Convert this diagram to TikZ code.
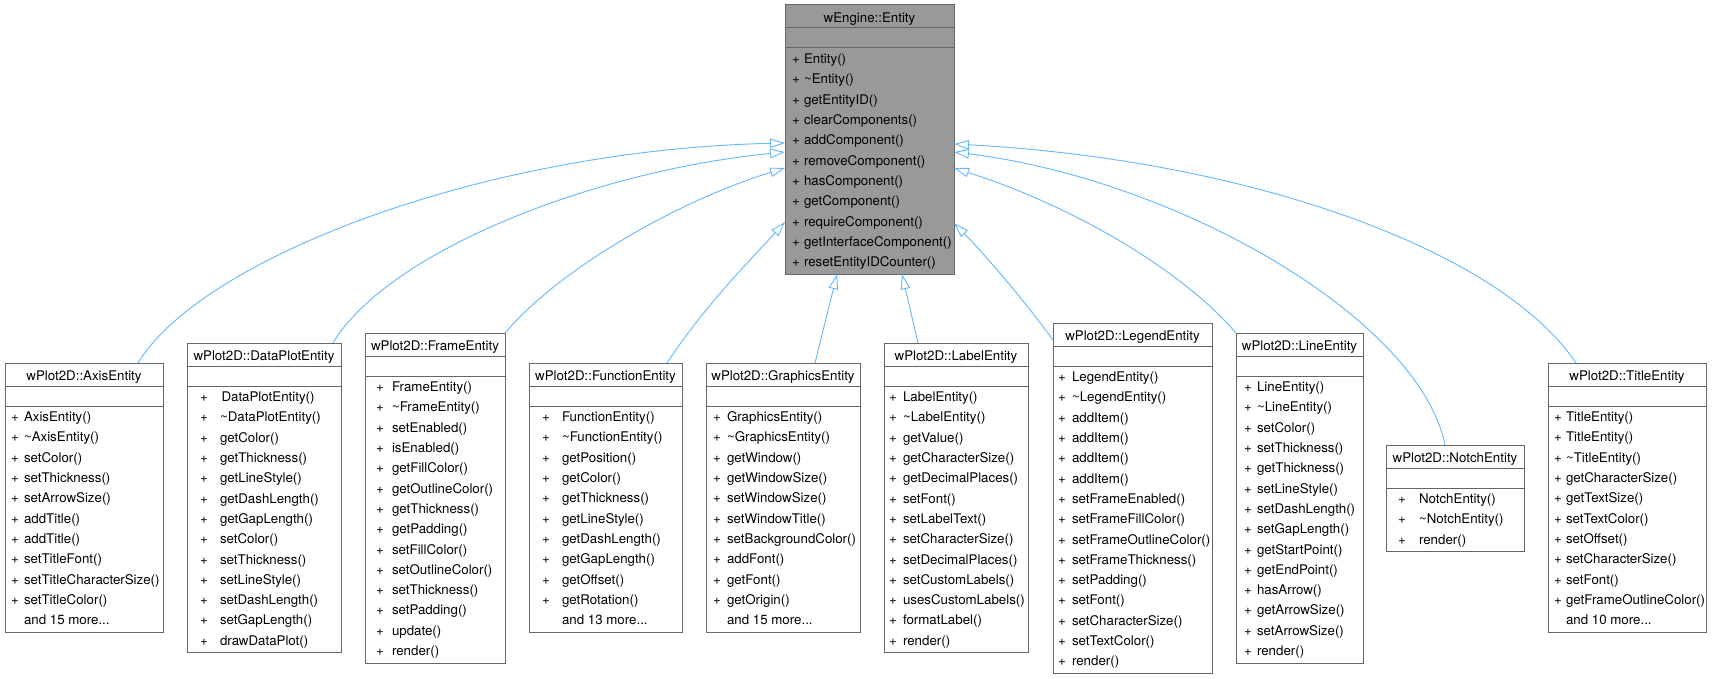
\documentclass[tikz,border=0pt]{standalone}
\usepackage{fontspec}
\setmainfont{TeX Gyre Heros}
\usetikzlibrary{arrows.meta}
\definecolor{boxgray}{HTML}{666666}
\definecolor{entfill}{HTML}{999999}
\definecolor{edgeblue}{HTML}{63B8FF}
\tikzset{
  classbox/.style={draw=boxgray, line width=1pt, inner sep=0pt, outer sep=0pt, rectangle},
  sepline/.style={draw=boxgray, line width=1pt},
  txt/.style={inner sep=0pt, outer sep=0pt, font=\fontsize{13.3}{16}\selectfont, text=black},
  inh/.style={draw=edgeblue, line width=0.9pt, -{Triangle[length=15pt, width=9.5pt, fill=white, line width=0.9pt]}},
}
\newcommand\umlclass[7]{%
  \pgfmathsetmacro\bw{#4-#2}%
  \pgfmathsetmacro\bh{43+#5*20.3+3}%
  \node[classbox, fill=#7, minimum width=\bw pt, minimum height=\bh pt, anchor=north west] (#1) at (#2,#3) {};
  \draw[sepline] ([yshift=-23pt]#1.north west) -- ([yshift=-23pt]#1.north east);
  \draw[sepline] ([yshift=-43pt]#1.north west) -- ([yshift=-43pt]#1.north east);
  \node[txt, anchor=base] at ([yshift=-17.5pt]#1.north) {#6};
}
\newcommand\members[4]{%
  \foreach \m [count=\i] in {#4} {
    \pgfmathsetmacro\dy{43+1.5+(\i-0.5)*20.3+4}
    \node[txt, anchor=base west] at ([xshift=#2pt, yshift=-\dy pt]#1.north west) {+};
    \node[txt, anchor=base west] at ([xshift=#3pt, yshift=-\dy pt]#1.north west) {\m};
  }
}
\newcommand\moreline[4]{%
  \pgfmathsetmacro\dy{43+1.5+(#3-0.5)*20.3+4}%
  \node[txt, anchor=base west] at ([xshift=#2pt, yshift=-\dy pt]#1.north west) {#4};
}
\def\tl{\textasciitilde}
\begin{document}
\begin{tikzpicture}[x=1pt,y=-1pt]
\useasboundingbox (0,0) rectangle (1712,679);
\fill[white] (0,0) rectangle (1712,679);

% classes
\umlclass{ent}{785}{5}{954}{11}{wEngine::Entity}{entfill}
\members{ent}{7}{19}{Entity(),\tl Entity(),getEntityID(),clearComponents(),addComponent(),removeComponent(),hasComponent(),getComponent(),requireComponent(),getInterfaceComponent(),resetEntityIDCounter()}

\umlclass{axis}{5}{363}{163}{11}{wPlot2D::AxisEntity}{white}
\members{axis}{6}{19}{AxisEntity(),\tl AxisEntity(),setColor(),setThickness(),setArrowSize(),addTitle(),addTitle(),setTitleFont(),setTitleCharacterSize(),setTitleColor()}
\moreline{axis}{19}{11}{and 15 more...}

\umlclass{dataplot}{187}{343}{341}{13}{wPlot2D::DataPlotEntity}{white}
\members{dataplot}{13}{33}{\hspace{1.5pt}DataPlotEntity(),\tl DataPlotEntity(),getColor(),getThickness(),getLineStyle(),getDashLength(),getGapLength(),setColor(),setThickness(),setLineStyle(),setDashLength(),setGapLength(),drawDataPlot()}

\umlclass{frame}{365}{333}{505}{14}{wPlot2D::FrameEntity}{white}
\members{frame}{11}{27}{FrameEntity(),\tl FrameEntity(),setEnabled(),isEnabled(),getFillColor(),getOutlineColor(),getThickness(),getPadding(),setFillColor(),setOutlineColor(),setThickness(),setPadding(),update(),render()}

\umlclass{function}{529}{363}{682}{11}{wPlot2D::FunctionEntity}{white}
\members{function}{13}{33}{FunctionEntity(),\tl FunctionEntity(),getPosition(),getColor(),getThickness(),getLineStyle(),getDashLength(),getGapLength(),getOffset(),getRotation()}
\moreline{function}{33}{11}{and 13 more...}

\umlclass{graphics}{706}{363}{860}{11}{wPlot2D::GraphicsEntity}{white}
\members{graphics}{7}{21}{GraphicsEntity(),\tl GraphicsEntity(),getWindow(),getWindowSize(),setWindowSize(),setWindowTitle(),setBackgroundColor(),addFont(),getFont(),getOrigin()}
\moreline{graphics}{21}{11}{and 15 more...}

\umlclass{label}{884}{343}{1028}{13}{wPlot2D::LabelEntity}{white}
\members{label}{5}{19}{LabelEntity(),\tl LabelEntity(),getValue(),getCharacterSize(),getDecimalPlaces(),setFont(),setLabelText(),setCharacterSize(),setDecimalPlaces(),setCustomLabels(),usesCustomLabels(),formatLabel(),render()}

\umlclass{legend}{1053}{323}{1212}{15}{wPlot2D::LegendEntity}{white}
\members{legend}{5}{19}{LegendEntity(),\tl LegendEntity(),addItem(),addItem(),addItem(),addItem(),setFrameEnabled(),setFrameFillColor(),setFrameOutlineColor(),setFrameThickness(),setPadding(),setFont(),setCharacterSize(),setTextColor(),render()}

\umlclass{line}{1236}{333}{1363}{14}{wPlot2D::LineEntity}{white}
\members{line}{8}{21}{LineEntity(),\tl LineEntity(),setColor(),setThickness(),getThickness(),setLineStyle(),setDashLength(),setGapLength(),getStartPoint(),getEndPoint(),hasArrow(),getArrowSize(),setArrowSize(),render()}

\umlclass{notch}{1386}{445}{1524}{3}{wPlot2D::NotchEntity}{white}
\members{notch}{12}{33}{NotchEntity(),\tl NotchEntity(),render()}

\umlclass{title}{1548}{363}{1706}{11}{wPlot2D::TitleEntity}{white}
\members{title}{6}{18}{TitleEntity(),TitleEntity(),\tl TitleEntity(),getCharacterSize(),getTextSize(),setTextColor(),setOffset(),setCharacterSize(),setFont(),getFrameOutlineColor()}
\moreline{title}{18}{11}{and 10 more...}

% inheritance edges
\draw[inh] ([xshift=133pt]axis.north west) .. controls (200,260) and (480,150) .. ([yshift=-138pt]ent.north west);
\draw[inh] ([xshift=146pt]dataplot.north west) .. controls (385,255) and (585,172) .. ([yshift=-147pt]ent.north west);
\draw[inh] (frame.north east) .. controls (560,268) and (680,200) .. ([yshift=-163pt]ent.north west);
\draw[inh] ([xshift=138pt]function.north west) .. controls (705,305) and (755,255) .. ([yshift=-217pt]ent.north west);
\draw[inh] ([xshift=109pt]graphics.north west) -- ([xshift=52pt]ent.south west);
\draw[inh] ([xshift=34pt]label.north west) -- ([xshift=117pt]ent.south west);
\draw[inh] ([yshift=-17pt]legend.north west) .. controls (1020,295) and (985,255) .. ([yshift=-218pt]ent.north east);
\draw[inh] (line.north west) .. controls (1180,268) and (1070,205) .. ([yshift=-163pt]ent.north east);
\draw[inh] ([xshift=59pt]notch.north west) .. controls (1420,320) and (1180,180) .. ([yshift=-147pt]ent.north east);
\draw[inh] ([xshift=28pt]title.north west) .. controls (1500,250) and (1250,160) .. ([yshift=-139pt]ent.north east);
\end{tikzpicture}
\end{document}
